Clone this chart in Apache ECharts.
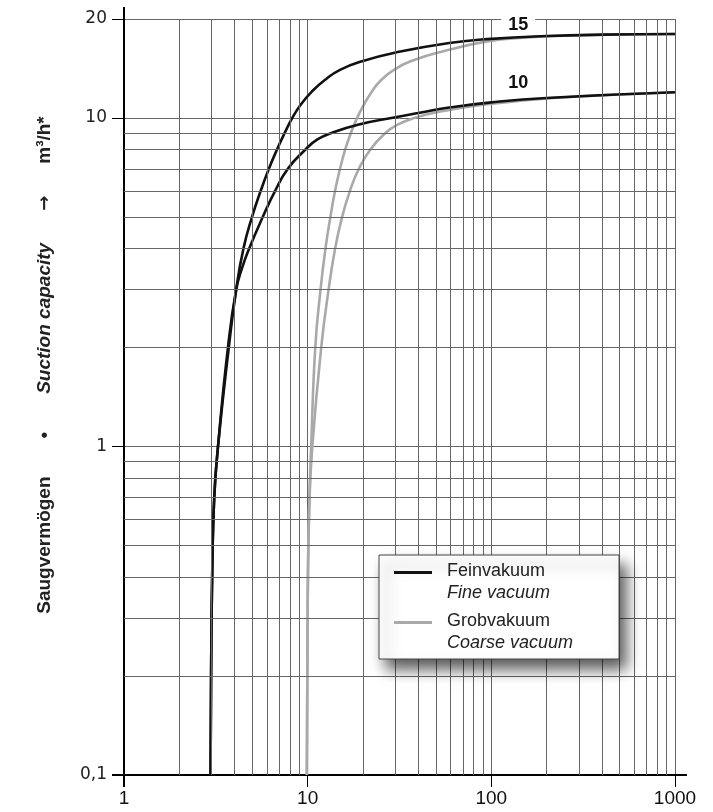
<!DOCTYPE html>
<html>
<head>
<meta charset="utf-8">
<script src="https://cdn.jsdelivr.net/npm/echarts@6/dist/echarts.min.js"></script>
<style>
html,body{margin:0;padding:0;background:#fff;}
#chart{width:713px;height:812px;}
</style>
</head>
<body>
<div id="chart"></div>
<script>
// Fine vacuum (black) curves
const fine15X = [2.96,2.98,3.02,3.1,3.25,3.72,4.08,4.47,4.98,5.55,6.15,6.8,7.5,8.25,9.2,10.5,12.3,15,20,30,59,100,200,400,1000];
const fine15Y = [0.1,0.2,0.4,0.7,1.0,2.0,3.0,4,5,6,7,8,9,10,11,12,13,14,14.9,15.8,16.9,17.4,17.75,17.92,18.0];
const fine10X = [2.96,2.98,3.02,3.1,3.25,3.68,4.08,4.4,4.8,5.7,6.65,7.8,9.7,11.3,13.5,19,30,40,59,100,200,1000];
const fine10Y = [0.1,0.2,0.4,0.7,1.0,2.0,3.0,3.5,4,5,6,7,8,8.6,9,9.55,10.05,10.35,10.75,11.15,11.5,11.97];
// Coarse vacuum (grey) curves
const coarse15X = [9.9,10.0,10.2,10.45,11.0,11.75,12.5,13.3,14.1,15.0,16.0,17.2,18.6,20.3,22.3,25,29.5,38,56,95,150,260,1000];
const coarse15Y = [0.1,0.33,0.66,1.0,2,3,4,5,6,7,8,9,10,11,12,13,14,15,16,17.1,17.55,17.8,18.0];
const coarse10X = [9.9,10.0,10.2,10.6,11.85,13.0,14.1,15.4,17.0,19.0,21.9,26.5,30.5,38,55,95,150,280,1000];
const coarse10Y = [0.1,0.33,0.66,1.0,2,3,4,5,6,7,8,9,9.5,10,10.5,11,11.3,11.6,11.97];
// Curve labels
const curveLabels = ['15','10'];
const curveLabelX = [140,140];
const curveLabelY = [19.2,12.8];
// Minor grid values
const xMinorGrid = [2,3,4,5,6,7,8,9,20,30,40,50,60,70,80,90,200,300,400,500,600,700,800,900];
const yMinorGrid = [0.2,0.3,0.4,0.5,0.6,0.7,0.8,0.9,2,3,4,5,6,7,8,9];
// Legend
const legendNames = ['Feinvakuum','Grobvakuum'];
const legendSub = {'Feinvakuum':'Fine vacuum','Grobvakuum':'Coarse vacuum'};
// Axis title
const yTitleParts = ['Saugvermögen','•','Suction capacity','→','m³/h*'];

const zip = (xs, ys) => xs.map((x, i) => [x, ys[i]]);
const BLACK = '#111111';
const GREY = '#a9a9a9';
const GRID = '#666666';

const chart = echarts.init(document.getElementById('chart'), null, {renderer:'canvas'});

const labelPoint = (i) => ({
  coord: [curveLabelX[i], curveLabelY[i]],
  value: curveLabels[i],
  symbol: 'rect', symbolSize: 0,
  label: {
    show: true, position: 'inside', formatter: curveLabels[i],
    fontFamily: 'Liberation Sans', fontWeight: 'bold', fontSize: 18, color: BLACK,
    backgroundColor: '#fff', padding: [1, 7, 0, 7]
  }
});

const titleFont = {fontFamily: 'Liberation Sans', fontWeight: 'bold', fontSize: 19, fill: '#222'};
const axisLineStyle = {
  show: true, onZero: false,
  symbol: ['rect', 'rect'], symbolSize: [2, 12], symbolOffset: [-6, 6],
  lineStyle: {color: '#000', width: 2}
};

chart.setOption({
  animation: false,
  textStyle: {fontFamily: 'Liberation Sans'},
  grid: {left: 124, right: 38, top: 19, bottom: 37, containLabel: false},
  graphic: [{
    type: 'text', x: 45, y: 365, rotation: Math.PI / 2, silent: true,
    style: {
      text: '{a|' + yTitleParts[0] + '}{s|' + yTitleParts[1] + '}{i|' + yTitleParts[2] + '}{r|' + yTitleParts[3] + '}{a|' + yTitleParts[4] + '}',
      align: 'center', verticalAlign: 'middle',
      rich: {
        a: Object.assign({}, titleFont),
        i: Object.assign({fontStyle: 'italic'}, titleFont),
        s: Object.assign({padding: [0, 38, 0, 38]}, titleFont),
        r: Object.assign({}, titleFont, {fontFamily: 'DejaVu Sans', fontSize: 18, padding: [0, 32, 0, 32]})
      }
    }
  }],
  xAxis: {
    type: 'log', logBase: 10, min: 1, max: 1000,
    axisLine: axisLineStyle,
    axisTick: {show: true, length: 12, lineStyle: {color: '#000', width: 1}},
    axisLabel: {fontFamily: 'Liberation Sans', fontSize: 19, color: '#111', margin: 14,
      formatter: (v) => String(v)},
    splitLine: {show: true, lineStyle: {color: GRID, width: 1}},
    minorTick: {show: false}, minorSplitLine: {show: false}
  },
  yAxis: {
    type: 'log', logBase: 10, min: 0.1, max: 20,
    axisLine: axisLineStyle,
    axisTick: {show: true, length: 12, lineStyle: {color: '#000', width: 1}},
    axisLabel: {
      fontFamily: 'DejaVu Sans', fontSize: 17, color: '#222', margin: 17,
      formatter: (v) => String(v).replace('.', ',')
    },
    splitLine: {show: true, lineStyle: {color: GRID, width: 1}}
  },
  legend: {
    data: legendNames,
    orient: 'vertical', left: 379, top: 555,
    selectedMode: false,
    icon: 'path://M0,0L38,0L38,3L0,3ZM48,22',
    itemWidth: 48, itemHeight: 22, itemGap: 10,
    itemStyle: {borderWidth: 0},
    padding: [7, 46, 7, 15],
    backgroundColor: '#fff', borderColor: '#444', borderWidth: 1,
    shadowBlur: 14, shadowColor: 'rgba(0,0,0,0.65)', shadowOffsetX: 7, shadowOffsetY: 10,
    formatter: (name) => '{a|' + name + '}\n{b|' + legendSub[name] + '}',
    textStyle: {
      color: '#222', fontFamily: 'Liberation Sans', fontSize: 18,
      rich: {
        a: {fontFamily: 'Liberation Sans', fontSize: 18, color: '#222', lineHeight: 22},
        b: {fontFamily: 'Liberation Sans', fontSize: 18, fontStyle: 'italic', color: '#222', lineHeight: 22}
      }
    },
    z: 10
  },
  series: [
    {
      name: 'grid', type: 'line', data: [], z: 1, silent: true,
      markLine: {
        silent: true, symbol: ['none', 'none'], animation: false,
        label: {show: false},
        lineStyle: {color: GRID, width: 1, type: 'solid'},
        emphasis: {disabled: true},
        data: xMinorGrid.map(v => ({xAxis: v})).concat(yMinorGrid.map(v => ({yAxis: v})))
      }
    },
    {
      name: 'Grobvakuum', type: 'line', data: zip(coarse15X, coarse15Y), z: 3,
      showSymbol: false, smooth: 0.5, color: GREY,
      lineStyle: {color: GREY, width: 2.6}
    },
    {
      name: 'Grobvakuum', type: 'line', data: zip(coarse10X, coarse10Y), z: 3,
      showSymbol: false, smooth: 0.5, color: GREY,
      lineStyle: {color: GREY, width: 2.6}
    },
    {
      name: 'Feinvakuum', type: 'line', data: zip(fine15X, fine15Y), z: 4,
      showSymbol: false, smooth: 0.5, color: BLACK,
      lineStyle: {color: BLACK, width: 2.6},
      markPoint: {silent: true, animation: false, data: [labelPoint(0)]}
    },
    {
      name: 'Feinvakuum', type: 'line', data: zip(fine10X, fine10Y), z: 4,
      showSymbol: false, smooth: 0.5, color: BLACK,
      lineStyle: {color: BLACK, width: 2.6},
      markPoint: {silent: true, animation: false, data: [labelPoint(1)]}
    }
  ]
});
</script>
</body>
</html>
